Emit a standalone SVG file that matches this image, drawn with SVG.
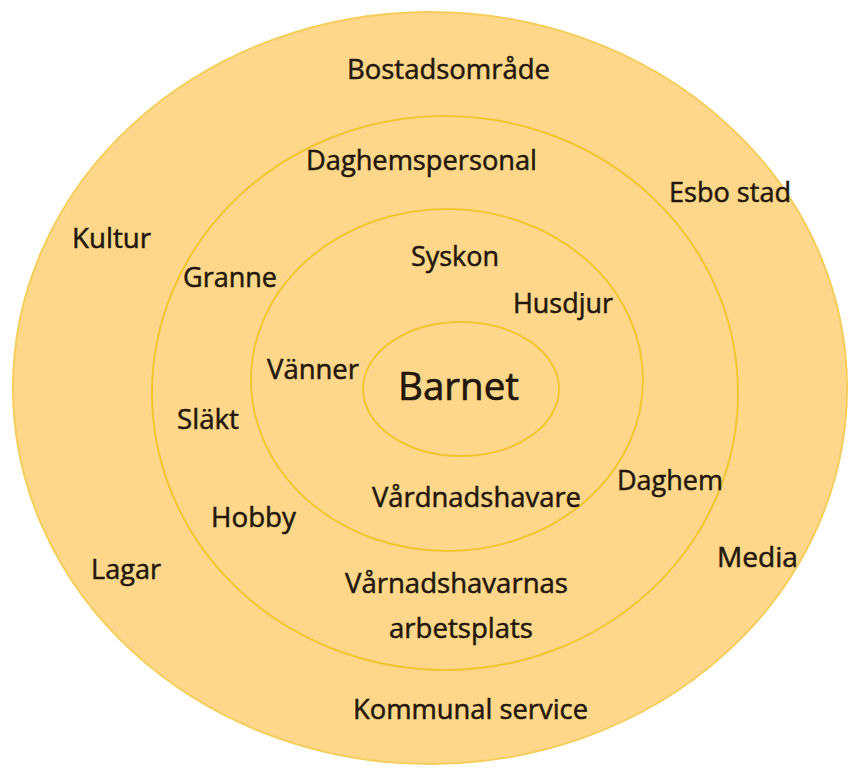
<svg xmlns="http://www.w3.org/2000/svg" width="851" height="772" viewBox="0 0 851 772">
<style>
.ring{fill:#FED78A;stroke:#F3C432;stroke-width:2}
.outer{fill:#FED78A;stroke:#F6CD5A;stroke-width:2}
text{font-family:"Open Sans","Liberation Sans",sans-serif;font-size:27px;fill:#22170a;stroke:#22170a;stroke-width:0.5px}
.big{font-size:39px;stroke-width:0.7px}
</style>
<rect width="851" height="772" fill="#ffffff"/>
<g id="ring-outer"><ellipse class="outer" cx="430" cy="388" rx="417" ry="376"/></g>
<g id="ring-2"><ellipse class="ring" cx="445" cy="393" rx="293" ry="277"/></g>
<g id="ring-3"><ellipse class="ring" cx="447" cy="380" rx="196" ry="171"/></g>
<g id="barnet"><ellipse class="ring" cx="461" cy="389" rx="98" ry="67"/>
<text class="big" x="398" y="400" textLength="121" lengthAdjust="spacingAndGlyphs">Barnet</text></g>
<g id="labels">
<text x="347" y="79" textLength="203" lengthAdjust="spacingAndGlyphs">Bostadsområde</text>
<text x="306" y="170" textLength="231" lengthAdjust="spacingAndGlyphs">Daghemspersonal</text>
<text x="669" y="202" textLength="122" lengthAdjust="spacingAndGlyphs">Esbo stad</text>
<text x="72" y="248" textLength="79" lengthAdjust="spacingAndGlyphs">Kultur</text>
<text x="411" y="266" textLength="88" lengthAdjust="spacingAndGlyphs">Syskon</text>
<text x="183" y="287" textLength="94" lengthAdjust="spacingAndGlyphs">Granne</text>
<text x="513" y="313" textLength="100" lengthAdjust="spacingAndGlyphs">Husdjur</text>
<text x="267" y="379" textLength="92" lengthAdjust="spacingAndGlyphs">Vänner</text>
<text x="177" y="429" textLength="62" lengthAdjust="spacingAndGlyphs">Släkt</text>
<text x="617" y="490" textLength="106" lengthAdjust="spacingAndGlyphs">Daghem</text>
<text x="372" y="507" textLength="209" lengthAdjust="spacingAndGlyphs">Vårdnadshavare</text>
<text x="211" y="527" textLength="85" lengthAdjust="spacingAndGlyphs">Hobby</text>
<text x="717" y="567" textLength="81" lengthAdjust="spacingAndGlyphs">Media</text>
<text x="91" y="579" textLength="70" lengthAdjust="spacingAndGlyphs">Lagar</text>
<text x="345" y="593" textLength="223" lengthAdjust="spacingAndGlyphs">Vårnadshavarnas</text>
<text x="389" y="638" textLength="144" lengthAdjust="spacingAndGlyphs">arbetsplats</text>
<text x="353" y="719" textLength="235" lengthAdjust="spacingAndGlyphs">Kommunal service</text>
</g>
</svg>
